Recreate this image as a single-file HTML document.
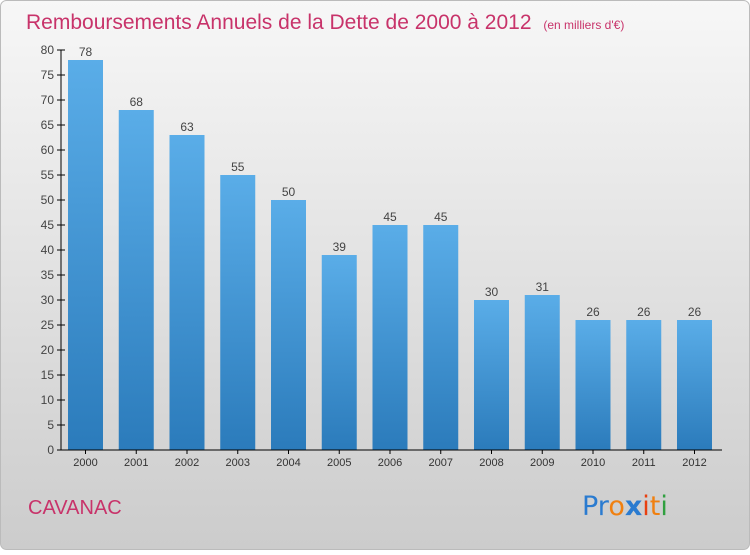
<!DOCTYPE html>
<html><head><meta charset="utf-8"><style>
body{margin:0;width:750px;height:550px;overflow:hidden;font-family:"Liberation Sans",sans-serif}
</style></head><body>
<svg width="750" height="550">
<defs>
<linearGradient id="bg" x1="0" y1="0" x2="0" y2="1"><stop offset="0" stop-color="#f7f7f7"/><stop offset="1" stop-color="#cccccc"/></linearGradient>
<linearGradient id="bar" x1="0" y1="0" x2="0" y2="1"><stop offset="0" stop-color="#5aade8"/><stop offset="1" stop-color="#2b7bbb"/></linearGradient>
</defs>
<rect x="0.5" y="0.5" width="749" height="549" rx="6" fill="url(#bg)" stroke="#bbb"/>
<text x="26" y="29" font-size="21" fill="#c8336a">Remboursements Annuels de la Dette de 2000 à 2012 <tspan font-size="12" dx="6">(en milliers d'€)</tspan></text>
<g id="plot"></g>
<text x="28" y="514" font-size="20" fill="#c8336a">CAVANAC</text>
<text x="582" y="515" font-size="27" font-family="DejaVu Sans, sans-serif"><tspan fill="#2a7bd0">Pr</tspan><tspan fill="#f08010">o</tspan><tspan fill="#2a7bd0" font-weight="bold">x</tspan><tspan fill="#e84010">i</tspan><tspan fill="#f08010">t</tspan><tspan fill="#30a040">i</tspan></text>
</svg>
<script>
const years=["2000","2001","2002","2003","2004","2005","2006","2007","2008","2009","2010","2011","2012"];
const values=[78,68,63,55,50,39,45,45,30,31,26,26,26];
const yTicks=[0,5,10,15,20,25,30,35,40,45,50,55,60,65,70,75,80];
const NS="http://www.w3.org/2000/svg";
const g=document.getElementById('plot');
const y0=450,yTop=50,yMax=80,x0=61,step=50.75,bw=35;
const yS=v=>y0-(v/yMax)*(y0-yTop);
const xS=i=>68+i*step;
function mk(t,a){const e=document.createElementNS(NS,t);for(const k in a)e.setAttribute(k,a[k]);g.appendChild(e);return e;}
values.forEach((v,i)=>{
 const r=mk('rect',{x:xS(i),y:yS(v),width:bw,height:y0-yS(v),fill:'url(#bar)'});
 
 
 const t=mk('text',{x:xS(i)+bw/2,y:yS(v)-4,'font-size':12,'text-anchor':'middle',fill:'#444'});
 t.textContent=v;
 
 
 const xl=mk('text',{x:xS(i)+bw/2,y:y0+16,'font-size':11,'text-anchor':'middle',fill:'#333'});
 xl.textContent=years[i];
 
 
 const xt=mk('line',{x1:xS(i)+bw/2,x2:xS(i)+bw/2,y1:y0,y2:y0+4,stroke:'#000'});
 
 
});
yTicks.forEach(v=>{
 const l=mk('line',{x1:x0-4,x2:x0+4,y1:yS(v),y2:yS(v),stroke:'#000'});
 
 
 const t=mk('text',{x:x0-7,y:yS(v)+4,'font-size':12,'text-anchor':'end',fill:'#444'});
 t.textContent=v;
 
 
});
const ya=mk('line',{x1:x0,x2:x0,y1:yTop,y2:y0,stroke:'#000'});


const xa=mk('line',{x1:x0,x2:722,y1:y0,y2:y0,stroke:'#000'});


</script>
</body></html>
